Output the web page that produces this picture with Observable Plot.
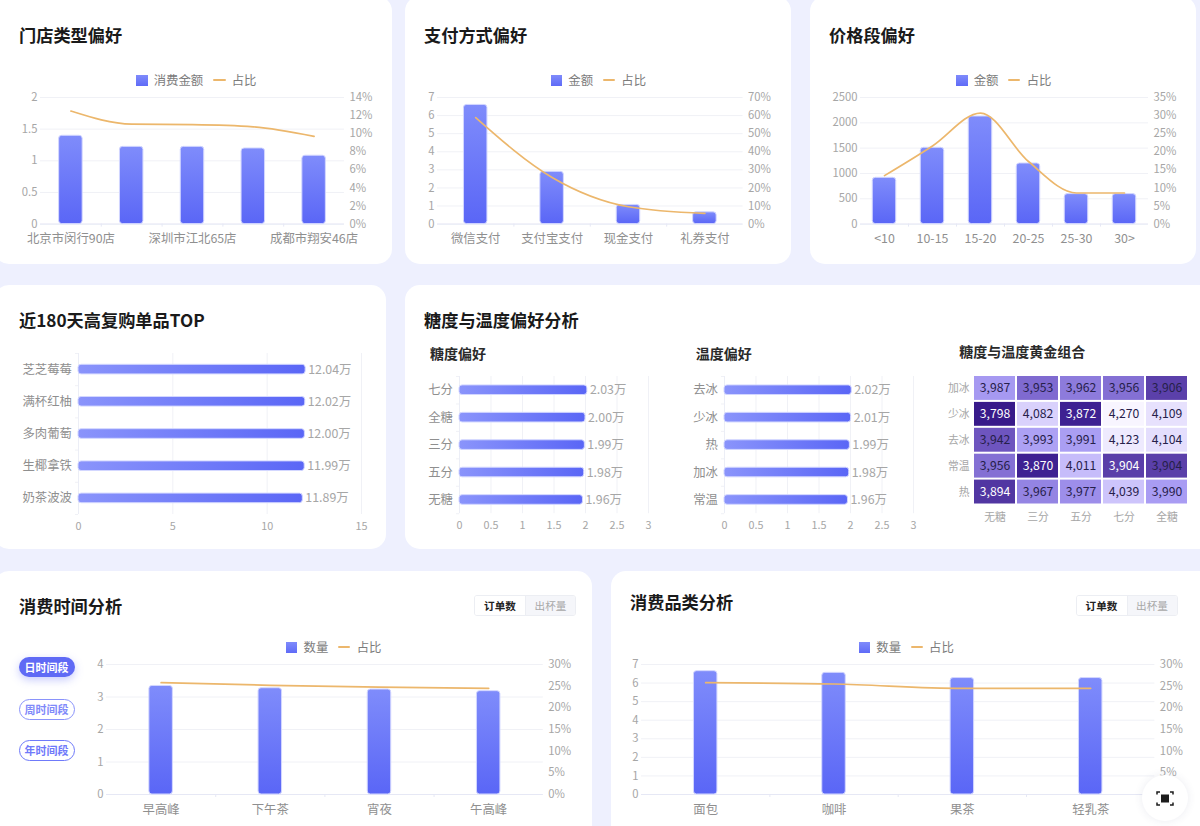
<!DOCTYPE html>
<html lang="zh">
<head>
<meta charset="utf-8">
<script src="https://cdn.jsdelivr.net/npm/d3@7"></script>
<script src="https://cdn.jsdelivr.net/npm/@observablehq/plot@0.6"></script>
<style>
html,body{margin:0;padding:0;width:1200px;height:826px;overflow:hidden;background:#eef0fe;font-family:"Noto Sans CJK SC","Noto Sans",sans-serif}
#page{position:relative;width:1200px;height:826px;overflow:hidden}
.card{position:absolute;background:#fff;border-radius:15px}
.title{position:absolute;font-size:17.2px;font-weight:700;color:#1a1a1a;line-height:24px;white-space:nowrap}
.sub{position:absolute;font-size:14px;font-weight:600;color:#2a2a2a;line-height:20px;white-space:nowrap}
.plot{position:absolute}
.plot svg{display:block;overflow:visible}
.lg{position:absolute;font-size:12.4px;color:#7c7c7c;line-height:16px;white-space:nowrap}
.lgs{position:absolute;width:11.4px;height:11px;background:linear-gradient(#7f8bfb,#5f6bf7)}
.lgl{position:absolute;height:2px;background:#ecb76c;border-radius:1px}
.pill{position:absolute;left:18.5px;width:56px;box-sizing:border-box;border-radius:11px;text-align:center;font-size:11px;font-weight:600;white-space:nowrap}
.tog{position:absolute;width:102px;height:21px;box-sizing:border-box;border:1px solid #eceef3;border-radius:3px;display:flex;font-size:10.6px;line-height:19px;text-align:center;overflow:hidden}
.tog b{flex:0 0 50px;font-weight:600;color:#222;background:#fff}
.tog i{flex:1;font-style:normal;color:#a8a8a8;background:#f5f6fa;border-left:1px solid #eceef3}
#fab{position:absolute;left:1142px;top:775px;width:46px;height:46px;border-radius:50%;background:#fff;box-shadow:0 0 8px rgba(60,70,120,.10)}
</style>
</head>
<body>
<div id="page"></div>
<script>
const FONT = '"Noto Sans CJK SC","Noto Sans",sans-serif';
const GRID = "#f0f1f6", BASE = "#e6e8f5", NUM = "#a6a6a6", CAT = "#8f8f8f", LINE = "#ecb76c";

// 门店类型偏好
const storeCats = ["北京市闵行90店", "门店二", "深圳市江北65店", "门店四", "成都市翔安46店"];
const storeShown = ["北京市闵行90店", "深圳市江北65店", "成都市翔安46店"];
const storeAmount = [1.395, 1.22, 1.22, 1.195, 1.08];
const storeShare = [12.5, 11.05, 11.0, 10.76, 9.7];
const storeLeftTicks = [0, 0.5, 1, 1.5, 2];
const storeRightTicks = [0, 2, 4, 6, 8, 10, 12, 14];

// 支付方式偏好
const payCats = ["微信支付", "支付宝支付", "现金支付", "礼券支付"];
const payAmount = [6.59, 2.89, 1.06, 0.65];
const payShare = [58.9, 25.8, 9.6, 5.9];
const payLeftTicks = [0, 1, 2, 3, 4, 5, 6, 7];
const payRightTicks = [0, 10, 20, 30, 40, 50, 60, 70];

// 价格段偏好
const priceCats = ["<10", "10-15", "15-20", "20-25", "25-30", "30>"];
const priceAmount = [914, 1507, 2125, 1197, 592, 592];
const priceShare = [13.4, 21.6, 30.7, 17.3, 8.6, 8.6];
const priceLeftTicks = [0, 500, 1000, 1500, 2000, 2500];
const priceRightTicks = [0, 5, 10, 15, 20, 25, 30, 35];

// 近180天高复购单品TOP
const topNames = ["芝芝莓莓", "满杯红柚", "多肉葡萄", "生椰拿铁", "奶茶波波"];
const topValues = [12.04, 12.02, 12.00, 11.99, 11.89];
const topTicks = [0, 5, 10, 15];

// 糖度偏好 / 温度偏好
const sugarNames = ["七分", "全糖", "三分", "五分", "无糖"];
const sugarValues = [2.03, 2.00, 1.99, 1.98, 1.96];
const tempNames = ["去冰", "少冰", "热", "加冰", "常温"];
const tempValues = [2.02, 2.01, 1.99, 1.98, 1.96];
const prefTicks = [0, 0.5, 1, 1.5, 2, 2.5, 3];

// 糖度与温度黄金组合
const heatCols = ["无糖", "三分", "五分", "七分", "全糖"];
const heatRows = ["加冰", "少冰", "去冰", "常温", "热"];
const heatRow0 = [3987, 3953, 3962, 3956, 3906];
const heatRow1 = [3798, 4082, 3872, 4270, 4109];
const heatRow2 = [3942, 3993, 3991, 4123, 4104];
const heatRow3 = [3956, 3870, 4011, 3904, 3904];
const heatRow4 = [3894, 3967, 3977, 4039, 3990];
const heatWhite = ["少冰无糖", "少冰五分", "常温三分", "常温七分", "热无糖"];
const heatDomain = [3798, 3872, 3904, 3942, 3956, 3967, 3990, 4011, 4082, 4123, 4270];
const heatRange = ["#381a8a", "#3e2192", "#5a3fa9", "#6e55bf", "#8470d4", "#9484e3", "#a99cf3", "#c6bcfa", "#d9d1fc", "#eeeafe", "#f8f5ff"];

// 消费时间分析
const timeCats = ["早高峰", "下午茶", "宵夜", "午高峰"];
const timeCount = [3.34, 3.27, 3.23, 3.18];
const timeShare = [25.8, 25.2, 24.8, 24.5];
const timeLeftTicks = [0, 1, 2, 3, 4];
const shareTicks = [0, 5, 10, 15, 20, 25, 30];

// 消费品类分析
const catCats = ["面包", "咖啡", "果茶", "轻乳茶"];
const catCount = [6.64, 6.55, 6.27, 6.27];
const catShare = [25.8, 25.5, 24.5, 24.5];
const catLeftTicks = [0, 1, 2, 3, 4, 5, 6, 7];

const page = document.getElementById("page");
function el(cls, style, text) {
  const d = document.createElement("div");
  d.className = cls;
  Object.assign(d.style, style);
  if (text != null) d.textContent = text;
  page.appendChild(d);
  return d;
}
const px = v => v + "px";
function card(l, t, r, b) { el("card", {left: px(l), top: px(t), width: px(r - l), height: px(b - t)}); }
function title(x, yc, s) { el("title", {left: px(x), top: px(yc - 12)}, s); }
function legend(yc, sq, label, t1, l1, l2, t2) {
  el("lgs", {left: px(sq), top: px(yc - 5.5)});
  el("lg", {left: px(t1), top: px(yc - 8.5)}, label);
  el("lgl", {left: px(l1), top: px(yc - 1), width: px(l2 - l1)});
  el("lg", {left: px(t2), top: px(yc - 8.5)}, "占比");
}
function gradientDefs() {
  const svg = d3.select(document.body).append("svg").attr("width", 0).attr("height", 0).style("position", "absolute");
  const defs = svg.append("defs");
  const v = defs.append("linearGradient").attr("id", "gradV").attr("x1", 0).attr("y1", 0).attr("x2", 0).attr("y2", 1);
  v.append("stop").attr("offset", "0%").attr("stop-color", "#7f8cfb");
  v.append("stop").attr("offset", "100%").attr("stop-color", "#5a66f6");
  const h = defs.append("linearGradient").attr("id", "gradH").attr("x1", 0).attr("y1", 0).attr("x2", 1).attr("y2", 0);
  h.append("stop").attr("offset", "0%").attr("stop-color", "#8a94fb");
  h.append("stop").attr("offset", "100%").attr("stop-color", "#5a66f6");
}
gradientDefs();

function place(node, left, top) {
  const w = document.createElement("div");
  w.className = "plot";
  w.style.left = px(left);
  w.style.top = px(top);
  w.appendChild(node);
  page.appendChild(w);
}

// combo chart: bars on left scale, share line mapped onto the same y scale
function combo({x0, x1, y0, y1, cats, shown, bars, share, leftTicks, rightTicks, barW = 23.5}) {
  const mL = 46, mR = 46, mT = 10, mB = 30;
  const w = x1 - x0, h = y1 - y0;
  const step = w / cats.length;
  const inset = (step - barW) / 2;
  const leftMax = d3.max(leftTicks), rightMax = d3.max(rightTicks);
  const toLeft = p => p * leftMax / rightMax;
  const rows = cats.map((c, i) => ({c, v: bars[i], p: share[i]}));
  const plot = Plot.plot({
    width: w + mL + mR, height: h + mT + mB,
    marginLeft: mL, marginRight: mR, marginTop: mT, marginBottom: mB,
    style: {fontFamily: FONT, background: "transparent", overflow: "visible"},
    x: {type: "band", domain: cats, padding: 0, round: false, label: null},
    y: {type: "linear", domain: [0, leftMax], label: null},
    marks: [
      Plot.gridY(leftTicks, {stroke: GRID, strokeOpacity: 1}),
      Plot.ruleY([0], {stroke: BASE}),
      Plot.ruleX(cats.slice(0, -1), {x: d => d, y1: 0, y2: 0, insetBottom: -3, dx: step / 2, stroke: BASE}),
      Plot.barY(rows, {x: "c", y: "v", insetLeft: inset, insetRight: inset, rx: 3, fill: "url(#gradV)", stroke: "#d3d7ff", strokeWidth: 1}),
      Plot.line(rows, {x: "c", y: d => toLeft(d.p), curve: "monotone-x", stroke: LINE, strokeWidth: 1.7}),
      Plot.axisY(leftTicks, {anchor: "left", tickSize: 0, tickPadding: 3, fontSize: 11.3, color: NUM, label: null, tickFormat: d => String(d)}),
      Plot.axisY(rightTicks.map(toLeft), {anchor: "right", tickSize: 0, tickPadding: 5, fontSize: 11.3, color: NUM, label: null, tickFormat: d => Math.round(d * rightMax / leftMax) + "%"}),
      Plot.axisX(shown || cats, {anchor: "bottom", tickSize: 0, tickPadding: 10.5, fontSize: 12.4, color: CAT, label: null})
    ]
  });
  place(plot, x0 - mL, y0 - mT);
}

// horizontal bar chart with value labels
function hbar({x0, x3, y0, y1, names, values, ticks, barH = 9.6}) {
  const mL = 60, mR = 30, mT = 0, mB = 24;
  const w = x3 - x0, h = y1 - y0;
  const step = h / names.length;
  const inset = (step - barH) / 2;
  const rows = names.map((n, i) => ({n, v: values[i]}));
  const plot = Plot.plot({
    width: w + mL + mR, height: h + mT + mB,
    marginLeft: mL, marginRight: mR, marginTop: mT, marginBottom: mB,
    style: {fontFamily: FONT, background: "transparent", overflow: "visible"},
    x: {type: "linear", domain: [0, d3.max(ticks)], label: null},
    y: {type: "band", domain: names, padding: 0, round: false, label: null},
    marks: [
      Plot.gridX(ticks.slice(1), {stroke: GRID, strokeOpacity: 1}),
      Plot.ruleX([0], {stroke: "#eceef6"}),
      Plot.ruleY(names, {y: d => d, x1: 0, x2: 0, insetLeft: -3, dy: step / 2, stroke: GRID}),
      Plot.ruleY(names.slice(0, 1), {y: d => d, x1: 0, x2: 0, insetLeft: -3, dy: -step / 2, stroke: GRID}),
      Plot.barX(rows, {x: "v", y: "n", insetTop: inset, insetBottom: inset, rx: 3, fill: "url(#gradH)", stroke: "#d3d7ff", strokeWidth: 1}),
      Plot.text(rows, {x: "v", y: "n", text: d => d.v.toFixed(2) + "万", textAnchor: "start", dx: 2.5, fontSize: 12.4, fill: NUM}),
      Plot.axisY(names, {anchor: "left", tickSize: 0, tickPadding: 6.5, fontSize: 12.4, color: CAT, label: null}),
      Plot.axisX(ticks, {anchor: "bottom", tickSize: 0, tickPadding: 8, fontSize: 10.8, color: NUM, label: null, tickFormat: d => String(d)})
    ]
  });
  place(plot, x0 - mL, y0 - mT);
}

// cards
card(-6, -4, 392, 264);
card(405, -4, 791, 264);
card(810, -4, 1196, 264);
card(-6, 285, 386, 549);
card(405, 285, 1220, 549);
card(-6, 571, 592, 860);
card(610.5, 571, 1220, 860);

title(19, 35, "门店类型偏好");
title(424, 35, "支付方式偏好");
title(829, 35, "价格段偏好");
title(19, 320, "近180天高复购单品TOP");
title(424, 320, "糖度与温度偏好分析");
title(19, 606, "消费时间分析");
title(630, 602, "消费品类分析");

legend(80, 136.3, "消费金额", 153.7, 213, 225.7, 231.7);
legend(80, 551, "金额", 568.3, 603, 615, 621.3);
legend(80, 956.3, "金额", 973.7, 1008, 1020.3, 1026.7);
legend(647, 286, "数量", 303.5, 338.3, 350, 356.7);
legend(647, 859, "数量", 876.3, 911, 922.6, 929);

combo({x0: 39.6, x1: 343.6, y0: 96.7, y1: 223.3, cats: storeCats, shown: storeShown, bars: storeAmount, share: storeShare, leftTicks: storeLeftTicks, rightTicks: storeRightTicks});
combo({x0: 436.7, x1: 742.3, y0: 96.7, y1: 223.3, cats: payCats, bars: payAmount, share: payShare, leftTicks: payLeftTicks, rightTicks: payRightTicks});
combo({x0: 859.5, x1: 1147.5, y0: 96.7, y1: 223.3, cats: priceCats, bars: priceAmount, share: priceShare, leftTicks: priceLeftTicks, rightTicks: priceRightTicks});
combo({x0: 106.4, x1: 543.2, y0: 664.3, y1: 794.3, cats: timeCats, bars: timeCount, share: timeShare, leftTicks: timeLeftTicks, rightTicks: shareTicks});
combo({x0: 640.6, x1: 1154, y0: 664.3, y1: 794.3, cats: catCats, bars: catCount, share: catShare, leftTicks: catLeftTicks, rightTicks: shareTicks});

hbar({x0: 78.3, x3: 361.3, y0: 352.5, y1: 513.5, names: topNames, values: topValues, ticks: topTicks});
el("sub", {left: "430px", top: "343px"}, "糖度偏好");
el("sub", {left: "695.8px", top: "343px"}, "温度偏好");
hbar({x0: 458.5, x3: 647.5, y0: 376.3, y1: 513.5, names: sugarNames, values: sugarValues, ticks: prefTicks});
hbar({x0: 723.5, x3: 912.5, y0: 376.3, y1: 513.5, names: tempNames, values: tempValues, ticks: prefTicks});

// heatmap
el("sub", {left: "959.3px", top: "341px"}, "糖度与温度黄金组合");
const heatMatrix = [heatRow0, heatRow1, heatRow2, heatRow3, heatRow4];
const heatCells = heatRows.flatMap((r, i) => heatCols.map((c, j) => ({r, c, v: heatMatrix[i][j]})));
const heatPlot = Plot.plot({
  width: 215 + 40 + 6, height: 129.5 + 4 + 24,
  marginLeft: 40, marginRight: 6, marginTop: 4, marginBottom: 24,
  style: {fontFamily: FONT, background: "transparent", overflow: "visible"},
  x: {type: "band", domain: heatCols, padding: 0, round: false, label: null},
  y: {type: "band", domain: heatRows, padding: 0, round: false, label: null},
  color: {type: "linear", domain: heatDomain, range: heatRange, interpolate: "rgb"},
  marks: [
    Plot.cell(heatCells, {x: "c", y: "r", fill: "v", inset: 1}),
    Plot.text(heatCells, {x: "c", y: "r", text: d => d3.format(",")(d.v), fontSize: 12.2,
      fill: d => heatWhite.includes(d.r + d.c) ? "#ffffff" : "#26204a"}),
    Plot.axisY(heatRows, {anchor: "left", tickSize: 0, tickPadding: 4, fontSize: 10.8, color: NUM, label: null}),
    Plot.axisX(heatCols, {anchor: "bottom", tickSize: 0, tickPadding: 8, fontSize: 10.8, color: NUM, label: null})
  ]
});
place(heatPlot, 973 - 40, 375 - 4);

// side pills
el("pill", {top: "657.3px", height: "20px", lineHeight: "20px", background: "#5f6af5", color: "#fff", boxShadow: "0 3px 8px rgba(95,106,245,.35)"}, "日时间段");
el("pill", {top: "698.5px", height: "21px", lineHeight: "19px", border: "1px solid #8a93fb", color: "#7f8afa", background: "#fff"}, "周时间段");
el("pill", {top: "740px", height: "21px", lineHeight: "19px", border: "1px solid #6f7afa", color: "#6f7afa", background: "#fff"}, "年时间段");

// toggles
for (const [l, t] of [[474, 595], [1075.5, 595]]) {
  const g = el("tog", {left: px(l), top: px(t)});
  g.innerHTML = "<b>订单数</b><i>出杯量</i>";
}

// floating button
const fab = el("", {});
fab.id = "fab";
fab.innerHTML = '<svg width="46" height="46" viewBox="0 0 46 46" style="display:block"><rect x="19" y="19.5" width="8" height="8" fill="#1d1d1d"/><path d="M15 19.5V17H18M31 19.5V17H28M15 27.5V30H18M31 27.5V30H28" fill="none" stroke="#1d1d1d" stroke-width="1.5"/></svg>';
</script>
</body>
</html>
